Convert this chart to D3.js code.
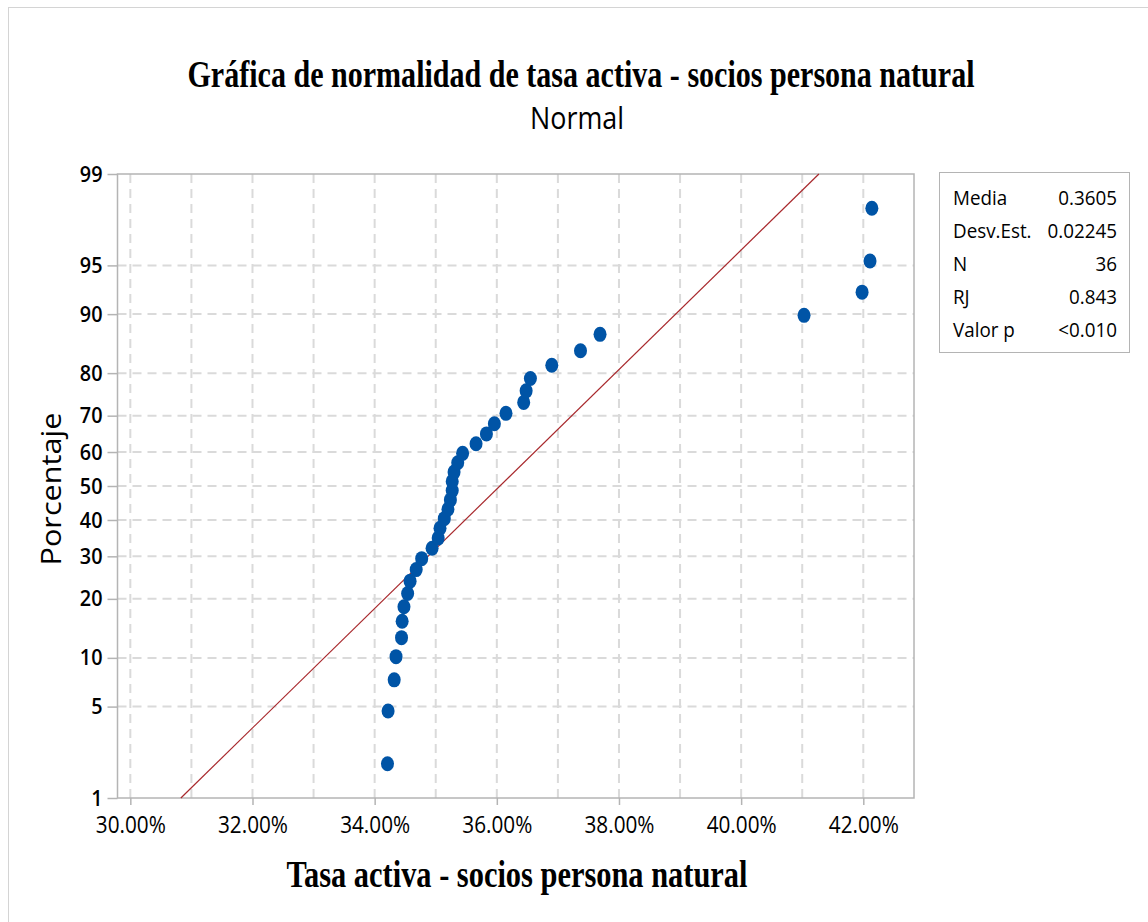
<!DOCTYPE html>
<html>
<head>
<meta charset="utf-8">
<script src="https://cdn.jsdelivr.net/npm/d3@7"></script>
<style>
  html, body { margin: 0; padding: 0; background: #ffffff; }
  svg { display: block; }
</style>
</head>
<body>
<svg id="chart" width="1148" height="922"></svg>
<script>
// Observed rates (%), sorted ascending
const rates = [34.21, 34.22, 34.32, 34.35, 34.44, 34.45, 34.48, 34.54, 34.58, 34.68,
               34.77, 34.94, 35.04, 35.07, 35.14, 35.20, 35.24, 35.27, 35.27, 35.30,
               35.36, 35.44, 35.66, 35.83, 35.96, 36.15, 36.44, 36.48, 36.55, 36.90,
               37.37, 37.69, 41.03, 41.98, 42.11, 42.14];
// Cumulative percentage (median rank) of each observation
const percents = [1.92, 4.67, 7.42, 10.16, 12.91, 15.66, 18.41, 21.15, 23.90, 26.65,
                  29.40, 32.14, 34.89, 37.64, 40.38, 43.13, 45.88, 48.63, 51.37, 54.12,
                  56.87, 59.62, 62.36, 65.11, 67.86, 70.60, 73.35, 76.10, 78.85, 81.59,
                  84.34, 87.09, 89.84, 92.58, 95.33, 98.08];
// Axis ticks
const xTicks = [30, 32, 34, 36, 38, 40, 42];
const xGrid = [30, 31, 32, 33, 34, 35, 36, 37, 38, 39, 40, 41, 42];
const yTicks = [1, 5, 10, 20, 30, 40, 50, 60, 70, 80, 90, 95, 99];
// Summary statistics
const statLabels = ["Media", "Desv.Est.", "N", "RJ", "Valor p"];
const statValues = ["0.3605", "0.02245", "36", "0.843", "<0.010"];
const fitMean = 0.3605, fitSd = 0.02245;

// Inverse of the standard normal CDF (Acklam)
function qnorm(p) {
  const a = [-3.969683028665376e+01, 2.209460984245205e+02, -2.759285104469687e+02,
             1.383577518672690e+02, -3.066479806614716e+01, 2.506628277459239e+00];
  const b = [-5.447609879822406e+01, 1.615858368580409e+02, -1.556989798598866e+02,
             6.680131188771972e+01, -1.328068155288572e+01];
  const c = [-7.784894002430293e-03, -3.223964580411365e-01, -2.400758277161838e+00,
             -2.549732539343734e+00, 4.374664141464968e+00, 2.938163982698783e+00];
  const d = [7.784695709041462e-03, 3.224671290700398e-01, 2.445134137142996e+00,
             3.754408661907416e+00];
  const pl = 0.02425;
  let q, r;
  if (p < pl) {
    q = Math.sqrt(-2 * Math.log(p));
    return (((((c[0]*q+c[1])*q+c[2])*q+c[3])*q+c[4])*q+c[5]) / ((((d[0]*q+d[1])*q+d[2])*q+d[3])*q+1);
  } else if (p <= 1 - pl) {
    q = p - 0.5; r = q * q;
    return (((((a[0]*r+a[1])*r+a[2])*r+a[3])*r+a[4])*r+a[5])*q / (((((b[0]*r+b[1])*r+b[2])*r+b[3])*r+b[4])*r+1);
  } else {
    q = Math.sqrt(-2 * Math.log(1 - p));
    return -(((((c[0]*q+c[1])*q+c[2])*q+c[3])*q+c[4])*q+c[5]) / ((((d[0]*q+d[1])*q+d[2])*q+d[3])*q+1);
  }
}

// Squeeze a text selection horizontally to a fraction of its natural width
function condense(sel, factor) {
  sel.each(function () {
    const w = this.getComputedTextLength();
    d3.select(this).attr("textLength", w * factor).attr("lengthAdjust", "spacingAndGlyphs");
  });
}

const svg = d3.select("#chart");
const sans = "'Open Sans', 'Noto Sans', sans-serif";
const serif = "'Liberation Serif', 'DejaVu Serif', serif";

// Outer frame
svg.append("rect").attr("x", 8.5).attr("y", 7.5).attr("width", 1160).attr("height", 960)
  .attr("fill", "none").attr("stroke", "#d4d4d4").attr("stroke-width", 1);

const plot = { left: 117.5, right: 914, top: 174, bottom: 798 };
const zMin = qnorm(0.01), zMax = qnorm(0.99);

const x = d3.scaleLinear().domain([29.79, 42.83]).range([plot.left, plot.right]);
const y = d3.scaleLinear().domain([zMin, zMax]).range([plot.bottom, plot.top]);

// Gridlines
const grid = svg.append("g").attr("stroke", "#dadada").attr("stroke-width", 2)
  .attr("stroke-dasharray", "9,6");
grid.selectAll("line.v").data(xGrid).join("line").attr("class", "v")
  .attr("x1", d => x(d)).attr("x2", d => x(d))
  .attr("y1", plot.top).attr("y2", plot.bottom);
grid.selectAll("line.h").data(yTicks.filter(t => t > 1 && t < 99)).join("line").attr("class", "h")
  .attr("x1", plot.left).attr("x2", plot.right)
  .attr("y1", d => y(qnorm(d / 100))).attr("y2", d => y(qnorm(d / 100)));

// Plot border
svg.append("rect").attr("x", plot.left).attr("y", plot.top)
  .attr("width", plot.right - plot.left).attr("height", plot.bottom - plot.top)
  .attr("fill", "none").attr("stroke", "#b4b4b4").attr("stroke-width", 1.5);

// Axes
const xAxis = svg.append("g").attr("transform", `translate(0,${plot.bottom})`)
  .call(d3.axisBottom(x).tickValues(xTicks).tickSize(7).tickSizeOuter(0).tickPadding(12)
    .tickFormat(d => d.toFixed(2) + "%"));
xAxis.select(".domain").remove();
xAxis.selectAll(".tick line").attr("stroke", "#b4b4b4").attr("stroke-width", 1.5);
xAxis.selectAll(".tick text").attr("fill", "#000").attr("font-family", sans)
  .attr("font-size", 23).attr("textLength", 70).attr("lengthAdjust", "spacingAndGlyphs");

const yAxis = svg.append("g").attr("transform", `translate(${plot.left},0)`)
  .call(d3.axisLeft(y).tickValues(yTicks.map(p => qnorm(p / 100))).tickSize(10).tickSizeOuter(0)
    .tickPadding(5).tickFormat((d, i) => yTicks[i]));
yAxis.select(".domain").remove();
yAxis.selectAll(".tick line").attr("stroke", "#b4b4b4").attr("stroke-width", 1.5);
yAxis.selectAll(".tick text").attr("fill", "#000").attr("font-family", sans)
  .attr("font-size", 22).attr("font-weight", 600).call(condense, 0.9);

// Fitted normal line
const fitLine = d3.line().x(d => x((fitMean + d * fitSd) * 100)).y(d => y(d));
svg.append("path").datum([zMin, zMax]).attr("d", fitLine)
  .attr("fill", "none").attr("stroke", "#a8282c").attr("stroke-width", 1.2);

// Data points
svg.append("g").selectAll("ellipse").data(rates).join("ellipse")
  .attr("cx", d => x(d)).attr("cy", (d, i) => y(qnorm(percents[i] / 100)))
  .attr("rx", 6.5).attr("ry", 7.5).attr("fill", "#0054a6");

// Titles
svg.append("text").attr("x", 581).attr("y", 87).attr("text-anchor", "middle")
  .attr("font-family", serif).attr("font-weight", "bold").attr("font-size", 37)
  .attr("textLength", 787).attr("lengthAdjust", "spacingAndGlyphs")
  .text("Gráfica de normalidad de tasa activa - socios persona natural");
svg.append("text").attr("x", 577).attr("y", 129).attr("text-anchor", "middle")
  .attr("font-family", sans).attr("font-size", 31).attr("font-weight", 500)
  .attr("textLength", 94).attr("lengthAdjust", "spacingAndGlyphs")
  .text("Normal");
svg.append("text").attr("x", 517).attr("y", 887).attr("text-anchor", "middle")
  .attr("font-family", serif).attr("font-weight", "bold").attr("font-size", 37)
  .attr("textLength", 461).attr("lengthAdjust", "spacingAndGlyphs")
  .text("Tasa activa - socios persona natural");
svg.append("text").attr("transform", "translate(61,489) rotate(-90)").attr("text-anchor", "middle")
  .attr("font-family", sans).attr("font-size", 28).attr("font-weight", 500)
  .attr("textLength", 153).attr("lengthAdjust", "spacingAndGlyphs")
  .text("Porcentaje");

// Statistics box
const box = svg.append("g").attr("transform", "translate(939,172)");
box.append("rect").attr("x", 0.5).attr("y", 0.5).attr("width", 190).attr("height", 180)
  .attr("fill", "#fff").attr("stroke", "#b4b4b4").attr("stroke-width", 1);
box.selectAll("text.lab").data(statLabels).join("text").attr("class", "lab")
  .attr("x", 14).attr("y", (d, i) => 33 + i * 33)
  .attr("font-family", sans).attr("font-size", 20).text(d => d).call(condense, 0.94);
box.selectAll("text.val").data(statValues).join("text").attr("class", "val")
  .attr("x", 178).attr("y", (d, i) => 33 + i * 33).attr("text-anchor", "end")
  .attr("font-family", sans).attr("font-size", 20).text(d => d).call(condense, 0.94);
</script>
</body>
</html>
